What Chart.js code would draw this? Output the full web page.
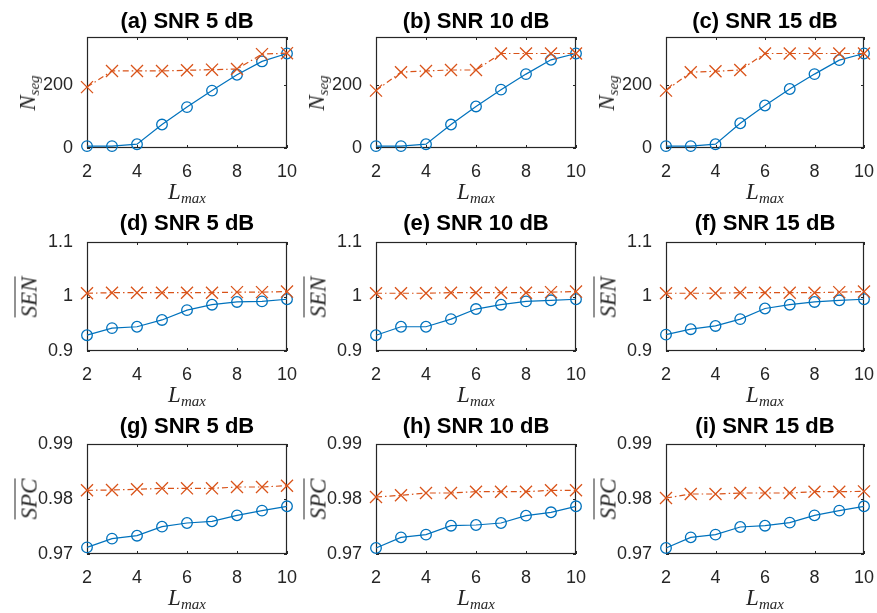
<!DOCTYPE html>
<html>
<head>
<meta charset="utf-8">
<script src="https://cdn.jsdelivr.net/npm/chart.js@4.4.1/dist/chart.umd.min.js"></script>
<style>
  body { margin: 0; background: #fff; }
  #fig { position: relative; width: 877px; height: 613px; overflow: hidden; font-family: "Liberation Sans", Arial, sans-serif; }
  .panel { position: absolute; }
  .ttl { position: absolute; font-weight: bold; font-size: 22px; color: #000; white-space: nowrap; transform: translate(-50%, -50%); line-height: 1; }
  .xl, .yl { position: absolute; font-family: "Liberation Serif", "DejaVu Serif", serif; font-style: italic; font-size: 23px; color: #262626; white-space: nowrap; line-height: 1; }
  .xl { transform: translateX(-50%); }
  .yl { transform: translate(-50%, -50%) rotate(-90deg); }
  .xl sub, .yl sub { font-size: 15px; vertical-align: -4px; }
  .bar { border-top: 1.4px solid #262626; padding-top: 1px; }
</style>
</head>
<body>
<div id="fig"></div>
<script>
// x values and tick labels
const lmax = [2, 3, 4, 5, 6, 7, 8, 9, 10];
const lmaxTicks = [2, 4, 6, 8, 10];
const nsegTicks = [0, 200];
const senTicks = [0.9, 1, 1.1];
const spcTicks = [0.97, 0.98, 0.99];

// number of segments, circle series (o) and cross series (x), per SNR
const nsegO5 = [6, 6, 12, 74, 129, 181, 231, 273, 298];
const nsegX5 = [192, 243, 243, 243, 245, 247, 249, 296, 299];
const nsegO10 = [6, 6, 12, 74, 131, 184, 233, 278, 298];
const nsegX10 = [181, 239, 243, 246, 246, 298, 298, 298, 298];
const nsegO15 = [6, 6, 12, 78, 134, 186, 233, 277, 298];
const nsegX15 = [181, 239, 242, 246, 298, 298, 298, 298, 298];

// mean sensitivity
const senO5 = [0.929, 0.942, 0.9445, 0.957, 0.975, 0.985, 0.990, 0.991, 0.995];
const senX5 = [1.006, 1.007, 1.007, 1.007, 1.007, 1.007, 1.008, 1.008, 1.009];
const senO10 = [0.929, 0.9445, 0.9445, 0.9585, 0.977, 0.985, 0.991, 0.993, 0.995];
const senX10 = [1.006, 1.006, 1.006, 1.007, 1.007, 1.007, 1.007, 1.008, 1.009];
const senO15 = [0.930, 0.940, 0.946, 0.9585, 0.978, 0.985, 0.990, 0.993, 0.995];
const senX15 = [1.006, 1.006, 1.006, 1.007, 1.007, 1.007, 1.007, 1.008, 1.009];

// mean specificity
const spcO5 = [0.97121, 0.97279, 0.97333, 0.97497, 0.97564, 0.97594, 0.97703, 0.97788, 0.97867];
const spcX5 = [0.98158, 0.98164, 0.98176, 0.98194, 0.98194, 0.98194, 0.98218, 0.98218, 0.98242];
const spcO10 = [0.97109, 0.97303, 0.97352, 0.97515, 0.97527, 0.97564, 0.97697, 0.97758, 0.97867];
const spcX10 = [0.98036, 0.98067, 0.98109, 0.98109, 0.98133, 0.98133, 0.98133, 0.98158, 0.98158];
const spcO15 = [0.97109, 0.97303, 0.97352, 0.97491, 0.97515, 0.97570, 0.97703, 0.97788, 0.97867];
const spcX15 = [0.98018, 0.98091, 0.98091, 0.98109, 0.98109, 0.98109, 0.98133, 0.98133, 0.98139];

const BLUE = '#0072BD';
const ORANGE = '#D95319';
const AXIS = '#262626';

// axes box with inward ticks on all four sides
const boxTicks = {
  id: 'boxTicks',
  beforeDatasetsDraw(chart) {
    const { ctx, chartArea: a, scales: { x, y } } = chart;
    const tl = 3;
    ctx.save();
    ctx.strokeStyle = AXIS;
    ctx.lineWidth = 1.2;
    ctx.strokeRect(Math.round(a.left) + 0.5, Math.round(a.top) + 0.5,
                   Math.round(a.width) - 1, Math.round(a.height) - 1);
    ctx.lineWidth = 1;
    ctx.beginPath();
    x.ticks.forEach(t => {
      const px = Math.round(x.getPixelForValue(t.value)) + 0.5;
      ctx.moveTo(px, a.bottom); ctx.lineTo(px, a.bottom - tl);
      ctx.moveTo(px, a.top); ctx.lineTo(px, a.top + tl);
    });
    y.ticks.forEach(t => {
      const py = Math.round(y.getPixelForValue(t.value)) + 0.5;
      ctx.moveTo(a.left, py); ctx.lineTo(a.left + tl, py);
      ctx.moveTo(a.right, py); ctx.lineTo(a.right - tl, py);
    });
    ctx.stroke();
    ctx.restore();
  }
};

const colL = [87, 376, 666];
const colW = [200, 200, 198];
const rowT = [37, 242, 444];
const rowH = [111, 109, 110];
const titleGap = [16, 19, 18];
const PADL = 70, PADT = 12, PADR = 20, PADB = 36;

const fmt = v => String(+Number(v).toFixed(4));

function panel(row, col, title, yLabelHtml, oData, xData, yMin, yMax, yTicks) {
  const fig = document.getElementById('fig');
  const L = colL[col], T = rowT[row], W = colW[col], H = rowH[row];

  const box = document.createElement('div');
  box.className = 'panel';
  box.style.left = (L - PADL) + 'px';
  box.style.top = (T - PADT) + 'px';
  box.style.width = (W + PADL + PADR) + 'px';
  box.style.height = (H + PADT + PADB) + 'px';
  const cv = document.createElement('canvas');
  box.appendChild(cv);
  fig.appendChild(box);

  const t = document.createElement('div');
  t.className = 'ttl';
  t.textContent = title;
  t.style.left = (L + W / 2) + 'px';
  t.style.top = (T - titleGap[row]) + 'px';
  fig.appendChild(t);

  const xl = document.createElement('div');
  xl.className = 'xl';
  xl.innerHTML = 'L<sub>max</sub>';
  xl.style.left = (L + W / 2) + 'px';
  xl.style.top = (T + H + 32) + 'px';
  fig.appendChild(xl);

  const yl = document.createElement('div');
  yl.className = 'yl';
  yl.innerHTML = yLabelHtml;
  yl.style.left = (L - 58) + 'px';
  yl.style.top = (T + H / 2) + 'px';
  fig.appendChild(yl);

  new Chart(cv, {
    type: 'line',
    data: {
      labels: lmax,
      datasets: [{
        data: xData.map((v, i) => ({ x: lmax[i], y: v })),
        borderColor: ORANGE,
        borderWidth: 1.2,
        borderDash: [6, 3, 1.5, 3],
        pointStyle: 'crossRot',
        pointRadius: 8.5,
        pointBorderWidth: 1.3,
        pointBorderColor: ORANGE,
        pointBackgroundColor: ORANGE,
        fill: false,
        tension: 0,
        clip: false
      }, {
        data: oData.map((v, i) => ({ x: lmax[i], y: v })),
        borderColor: BLUE,
        borderWidth: 1.2,
        pointStyle: 'circle',
        pointRadius: 5.3,
        pointBorderWidth: 1.3,
        pointBorderColor: BLUE,
        pointBackgroundColor: 'rgba(0,0,0,0)',
        fill: false,
        tension: 0,
        clip: false
      }]
    },
    options: {
      responsive: true,
      maintainAspectRatio: false,
      animation: false,
      events: [],
      layout: { padding: { top: PADT, right: PADR, left: 0, bottom: 0 } },
      plugins: { legend: { display: false }, tooltip: { enabled: false }, title: { display: false } },
      scales: {
        x: {
          type: 'linear',
          min: 2,
          max: 10,
          afterFit: s => { s.height = PADB; s.paddingLeft = 0; s.paddingRight = 0; },
          afterBuildTicks: s => { s.ticks = lmaxTicks.map(v => ({ value: v })); },
          grid: { display: false },
          border: { display: false },
          ticks: {
            color: AXIS,
            padding: 5,
            maxRotation: 0,
            autoSkip: false,
            font: { family: '"Liberation Sans", Arial, sans-serif', size: 18 },
            callback: fmt
          }
        },
        y: {
          min: yMin,
          max: yMax,
          afterFit: s => { s.width = PADL; s.paddingTop = 0; s.paddingBottom = 0; },
          afterBuildTicks: s => { s.ticks = yTicks.map(v => ({ value: v })); },
          grid: { display: false },
          border: { display: false },
          ticks: {
            color: AXIS,
            padding: 6,
            autoSkip: false,
            font: { family: '"Liberation Sans", Arial, sans-serif', size: 18 },
            callback: fmt
          }
        }
      }
    },
    plugins: [boxTicks]
  });
}

const nsegLabel = 'N<sub>seg</sub>';
const senLabel = '<span class="bar">SEN</span>';
const spcLabel = '<span class="bar">SPC</span>';

panel(0, 0, '(a) SNR 5 dB', nsegLabel, nsegO5, nsegX5, 0, 350, nsegTicks);
panel(0, 1, '(b) SNR 10 dB', nsegLabel, nsegO10, nsegX10, 0, 350, nsegTicks);
panel(0, 2, '(c) SNR 15 dB', nsegLabel, nsegO15, nsegX15, 0, 350, nsegTicks);
panel(1, 0, '(d) SNR 5 dB', senLabel, senO5, senX5, 0.9, 1.1, senTicks);
panel(1, 1, '(e) SNR 10 dB', senLabel, senO10, senX10, 0.9, 1.1, senTicks);
panel(1, 2, '(f) SNR 15 dB', senLabel, senO15, senX15, 0.9, 1.1, senTicks);
panel(2, 0, '(g) SNR 5 dB', spcLabel, spcO5, spcX5, 0.97, 0.99, spcTicks);
panel(2, 1, '(h) SNR 10 dB', spcLabel, spcO10, spcX10, 0.97, 0.99, spcTicks);
panel(2, 2, '(i) SNR 15 dB', spcLabel, spcO15, spcX15, 0.97, 0.99, spcTicks);
</script>
</body>
</html>
